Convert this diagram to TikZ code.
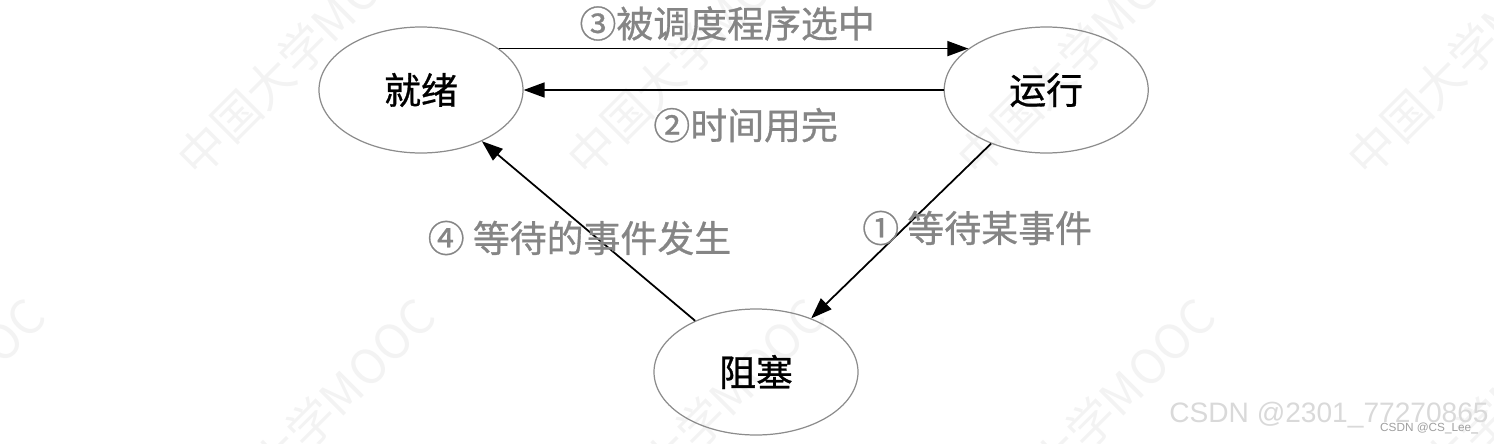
\documentclass[tikz,border=0pt]{standalone}
\usepackage{fontspec}
\setmainfont{Noto Sans CJK SC}
\newfontfamily\medfont{Noto Sans CJK SC}[FakeBold=0.8]
\newfontfamily\latinfont{Liberation Sans}
\usetikzlibrary{positioning, arrows.meta, shapes.geometric}
\definecolor{labelgray}{HTML}{858585}
\definecolor{rimgray}{HTML}{8C8C8C}
\definecolor{markgray}{HTML}{F3F3F3}
\tikzset{
    state/.style={ellipse, draw=rimgray, line width=0.7pt, minimum width=4.08cm, minimum height=2.52cm, font=\medfont\fontsize{21}{24}\selectfont, text=black},
    trans/.style={-{Triangle[length=0.42cm, width=0.3cm]}, line width=1pt, black},
    tlabel/.style={font=\medfont\fontsize{21}{24}\selectfont, text=labelgray, inner sep=0pt}
}

\begin{document}
\begin{tikzpicture}[
    watermark/.style={font=\fontsize{27}{30}\selectfont, text=markgray, rotate=45, inner sep=0pt},
    csdnmark/.style={font=\latinfont\fontsize{16}{18}\selectfont, text=gray!30, inner sep=0pt}
]
    \useasboundingbox (-8.42,1.8) rectangle (21.46,-7.06);

    % 0. faint background marks
    \begin{scope}
        \clip (-8.42,1.8) rectangle (21.46,-7.06);
        \foreach \k in {-1,...,3} {
            \node[watermark] (wmtop\k) at (-2.38+7.8*\k, 0.8) {中国大学MOOC};
            \node[watermark] (wmlow\k) at (-2.22+7.8*\k, -6.68) {中国大学MOOC};
        }
    \end{scope}

    % 1. the three states
    \node[state] (jiuxu) {就绪};
    \node[state] (yunxing) [right=8.4cm of jiuxu] {运行};
    \node[state] (zusai) [below right=5.64cm and 6.7cm of jiuxu.center, anchor=center] {阻塞};

    % 2. transitions
    \draw[trans] (jiuxu.28) -- (yunxing.152)
        node[tlabel, midway, above=0.14cm, xshift=-0.13cm] {③被调度程序选中};
    \draw[trans] (yunxing) -- (jiuxu)
        node[tlabel, midway, below=0.34cm, xshift=0.24cm] {②时间用完};
    \draw[trans] (yunxing) -- (zusai)
        node[tlabel, midway, xshift=1.52cm, yshift=0.06cm] {① 等待某事件};
    \draw[trans] (zusai) -- (jiuxu)
        node[tlabel, midway, xshift=-0.18cm, yshift=-0.14cm] {④ 等待的事件发生};

    % 3. site marks
    \node[csdnmark] (csdn) at (18.16,-6.5) {CSDN @2301\_77270865};
    \node[font=\latinfont\fontsize{6.7}{8}\selectfont, text=gray!75, inner sep=0pt] (author) at (20.16,-6.76) {CSDN @CS\_Lee\_};
\end{tikzpicture}
\end{document}
